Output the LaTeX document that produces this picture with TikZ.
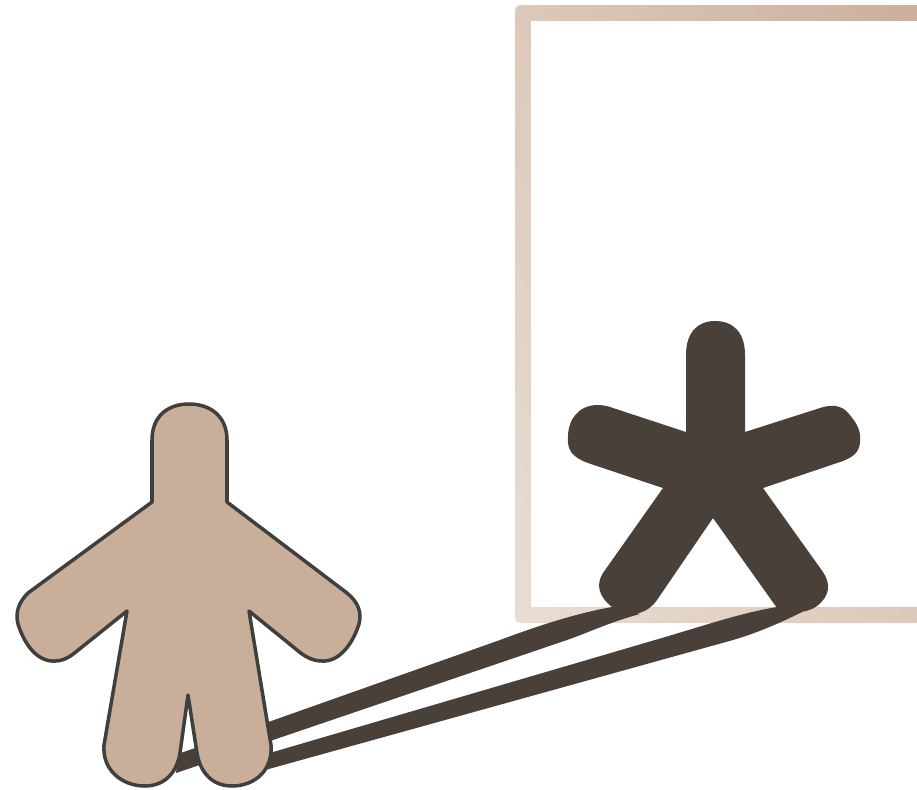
\documentclass[tikz,border=0pt]{standalone}
\usepackage{xcolor}
\usepackage{tikz}
\usetikzlibrary{shadings}
\definecolor{figfill}{HTML}{C9AE9A}
\definecolor{figline}{HTML}{3F3F3D}
\definecolor{stardark}{HTML}{4A403A}
\definecolor{frameLL}{HTML}{E9DDD3}
\definecolor{frameUL}{HTML}{DCC9BA}
\definecolor{frameLR}{HTML}{DCC8B8}
\definecolor{frameUR}{HTML}{CBAE9B}
\tikzset{
  person/.style={fill=figfill,draw=figline,line width=2pt,line join=round},
  starshape/.style={fill=stardark},
}
\begin{document}
\begin{tikzpicture}[x=0.02cm,y=-0.02cm]
  \clip (0,0) rectangle (917,789);
  % Frame
  \shade[rounded corners=3pt,lower left=frameLL,upper left=frameUL,lower right=frameLR,upper right=frameUR]
    (515,5) rectangle (940,623);
  \fill[white] (531,21) rectangle (940,607);
  % Shadow bands
  \fill[starshape] (612,607) .. controls (578,613) and (540,625) .. (500,640)
    -- (178,754) -- (176,773) -- (567,640) .. controls (590,632) and (610,622) .. (640,614) -- cycle;
  \fill[starshape] (777,607) .. controls (740,613) and (700,627) .. (655,640)
    -- (222,767) -- (222,782) -- (733,640) .. controls (757,633) and (780,623) .. (802,612) -- cycle;
  % Star figure
  \fill[starshape] (686,432) -- (686,355)
    .. controls (686,332) and (698,321) .. (715,321)
    .. controls (733,321) and (745,332) .. (745,355)
    -- (745,432) -- (820,408)
    .. controls (832,404) and (842,405) .. (849,414)
    .. controls (857,423) and (861,431) .. (860,441)
    .. controls (860,452) and (853,457) .. (843,461)
    -- (763,488) -- (823,572)
    .. controls (831,584) and (830,596) .. (817,606)
    .. controls (806,614) and (788,614) .. (777,608)
    -- (713,518) -- (657,600)
    .. controls (648,613) and (630,620) .. (612,607)
    .. controls (598,596) and (596,584) .. (603,573)
    -- (663,488) -- (588,463)
    .. controls (572,457) and (567,450) .. (568,437)
    .. controls (568,420) and (578,406) .. (596,405)
    .. controls (603,405) and (608,406) .. (613,408)
    -- cycle;
  % Person figure
  \path[person] (152,502) -- (152,440)
    .. controls (152,416) and (168,404) .. (189,404)
    .. controls (210,404) and (227,416) .. (227,440)
    -- (227,502) -- (347,593)
    .. controls (358,602) and (362,612) .. (359,624)
    .. controls (352,646) and (338,662) .. (322,661)
    .. controls (312,661) and (304,656) .. (297,650)
    -- (249,611) -- (271,745)
    .. controls (273,770) and (255,786) .. (232,786)
    .. controls (212,786) and (200,772) .. (197,753)
    -- (188,695) -- (180,753)
    .. controls (177,772) and (165,786) .. (145,786)
    .. controls (122,786) and (102,770) .. (104,745)
    -- (127,611) -- (77,651)
    .. controls (70,657) and (63,661) .. (55,661)
    .. controls (38,662) and (25,646) .. (18,624)
    .. controls (15,612) and (19,602) .. (28,593)
    -- cycle;
\end{tikzpicture}
\end{document}
